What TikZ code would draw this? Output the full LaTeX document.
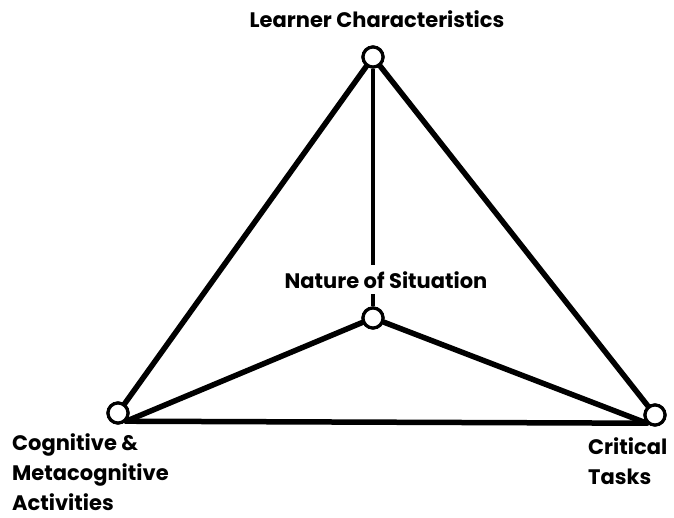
\documentclass[tikz,border=0pt]{standalone}
\usepackage{fontspec}
\setmainfont{Poppins}
\begin{document}
\begin{tikzpicture}[x=1pt,y=-1pt,
  vtx/.style={circle,draw=black,fill=white,line width=3.2pt,minimum size=20pt,inner sep=0pt},
  edge/.style={line width=5.5pt,line cap=round},
  lbl/.style={font=\fontsize{21}{30}\selectfont\bfseries,inner sep=0pt}]
\useasboundingbox[fill=white] (0,0) rectangle (674,517);
\coordinate (Tc) at (373,57);
\coordinate (Cc) at (373,318);
\coordinate (Lc) at (118,413);
\coordinate (Rc) at (655,415);
\node[vtx] (T) at (Tc) {};
\node[vtx] (C) at (Cc) {};
\node[vtx] (L) at (Lc) {};
\node[vtx] (R) at (Rc) {};
\draw[edge] (T) -- (L);
\draw[edge] (T) -- (R);
\draw[line width=3.4pt] (T) -- (C);
\draw[edge] (C) -- (L.-45);
\draw[edge] (C) -- (R.-135);
\draw[edge] (L.-45) -- (R.-135);
\node[vtx] at (Tc) {};
\node[vtx] at (Cc) {};
\node[vtx] at (Lc) {};
\node[vtx] at (Rc) {};
\node[lbl,anchor=base] (tl) at (377,27) {Learner Characteristics};
\node[lbl,anchor=base,fill=white,inner xsep=1pt,inner ysep=6pt] (cl) at (386,288) {Nature of Situation};
\node[lbl,anchor=base west,align=left] (ll) at (12,510) {Cognitive \&\\Metacognitive\\Activities};
\node[lbl,anchor=base west,align=left] (rl) at (588,484) {Critical\\Tasks};
\end{tikzpicture}
\end{document}
